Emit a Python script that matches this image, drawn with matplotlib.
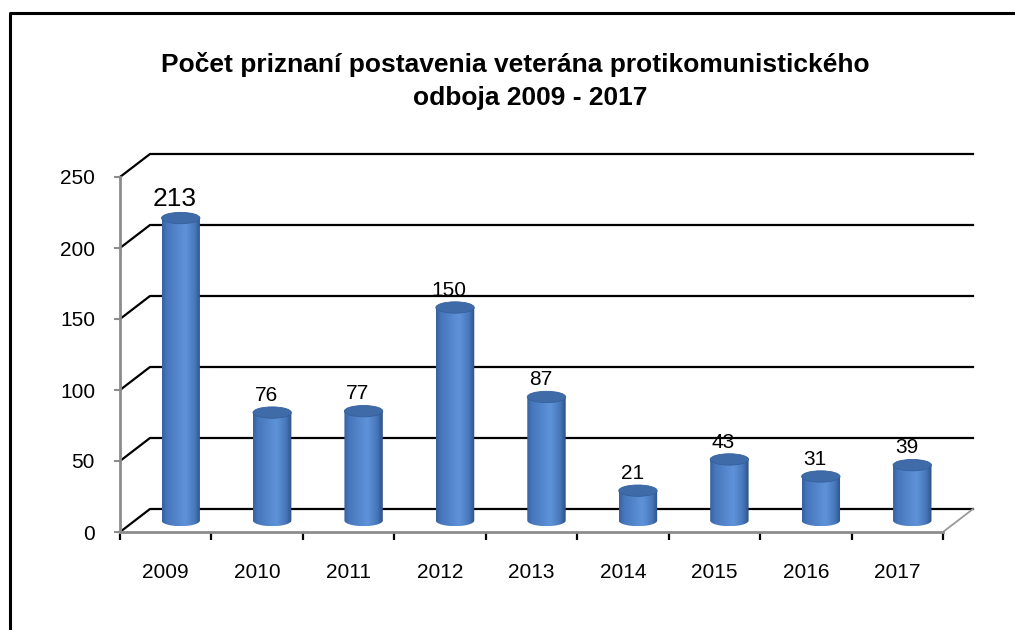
import numpy as np
import matplotlib
matplotlib.use("Agg")
import matplotlib.pyplot as plt
from matplotlib.patches import Polygon, Ellipse
from matplotlib.lines import Line2D
from matplotlib.colors import to_rgb

plt.rcParams["font.family"] = ["Liberation Sans", "DejaVu Sans"]

# data
years = ["2009", "2010", "2011", "2012", "2013", "2014", "2015", "2016", "2017"]
counts = [213, 76, 77, 150, 87, 21, 43, 31, 39]
yticks = [0, 50, 100, 150, 200, 250]
title_lines = ["Počet priznaní postavenia veterána protikomunistického",
               "odboja 2009 - 2017"]

# pseudo-3D depth (in data units) and cylinder size
DX, DY = 0.328, 16.2
BAR_W = 0.42
ELL_H = 8.0

fig = plt.figure(figsize=(10.15, 6.3), dpi=100)
ax = fig.add_axes([120 / 1015, 98 / 630, 823 / 1015, 355 / 630])
n = len(years)
xmin, xmax = -0.5, n - 0.5

# back wall gridlines
for v in yticks:
    ax.plot([xmin, xmin + DX, xmax + DX], [v, v + DY, v + DY],
            color="black", lw=1.6, clip_on=False, zorder=1)
# right floor edge
ax.plot([xmax, xmax + DX], [0, DY], color="#999999", lw=1.3, clip_on=False, zorder=1)

# cylinder shading
stops = [0.0, 0.12, 0.6, 0.85, 1.0]
cols = np.array([to_rgb(c) for c in ["#38629f", "#4676bb", "#5f93d9", "#4878bc", "#2d5285"]])
t = np.linspace(0, 1, 64)
grad = np.stack([np.interp(t, stops, cols[:, k]) for k in range(3)], axis=-1)[np.newaxis, :, :]

for i, v in enumerate(counts):
    xc = i + DX / 2
    yb = DY / 2
    yt = v + DY / 2
    x0, x1 = xc - BAR_W / 2, xc + BAR_W / 2
    ang = np.linspace(np.pi, 2 * np.pi, 40)
    pts = [(x0, yt), (x0, yb)]
    pts += list(zip(xc + BAR_W / 2 * np.cos(ang), yb + ELL_H / 2 * np.sin(ang)))
    pts += [(x1, yb), (x1, yt)]
    body = Polygon(pts, closed=True, transform=ax.transData)
    im = ax.imshow(grad, extent=[x0, x1, yb - ELL_H / 2, yt], aspect="auto",
                   interpolation="bilinear", zorder=3)
    im.set_clip_path(body)
    ax.add_patch(Ellipse((xc, yt), BAR_W, ELL_H, facecolor="#3f6ba8",
                         edgecolor="#35609c", lw=0.6, zorder=4))
    ax.annotate(str(v), xy=(i + 0.1, yt), xytext=(0, 8.5), textcoords="offset points",
                ha="center", va="baseline", fontsize=19 if v == max(counts) else 15,
                zorder=5, annotation_clip=False)

ax.set_xlim(xmin, xmax)
ax.set_ylim(0, 250)

for s in ["top", "right"]:
    ax.spines[s].set_visible(False)
ax.spines["left"].set_color("#8c8c8c")
ax.spines["left"].set_linewidth(2)
ax.spines["bottom"].set_color("#8c8c8c")
ax.spines["bottom"].set_linewidth(2)

ax.set_yticks(yticks)
ax.tick_params(axis="y", direction="out", length=4, width=1.5, color="#8c8c8c",
               pad=14, labelsize=15)
ax.set_xticks(np.arange(n + 1) - 0.5)
ax.set_xticklabels([])
ax.tick_params(axis="x", which="major", direction="out", length=6, width=1.6, color="black")
ax.set_xticks(np.arange(n), minor=True)
ax.set_xticklabels(years, minor=True)
ax.tick_params(axis="x", which="minor", length=0, pad=22, labelsize=15)

# title, two centred lines as Excel laid them out
fig.text(515 / 1015, 1 - 72 / 630, title_lines[0], ha="center", va="baseline",
         fontsize=19, fontweight="bold")
fig.text(530 / 1015, 1 - 105 / 630, title_lines[1], ha="center", va="baseline",
         fontsize=19, fontweight="bold")

# outer chart border (top + left)
fig.add_artist(Line2D([10 / 1015, 10 / 1015, 1.01], [-0.01, 1 - 13 / 630, 1 - 13 / 630],
                      color="black", lw=2.2, transform=fig.transFigure))

fig.savefig("out.png", dpi=100)
